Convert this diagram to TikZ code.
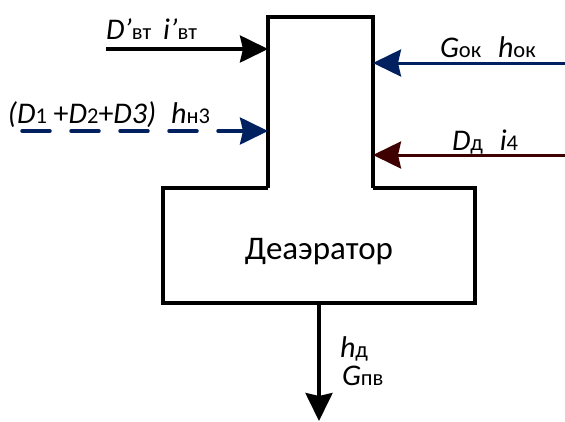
\documentclass[tikz,border=0pt]{standalone}
\usepackage{fontspec}
\setmainfont{Carlito}
\usetikzlibrary{arrows.meta}
\definecolor{navy}{RGB}{0,32,96}
\definecolor{dred}{RGB}{62,0,0}
\newcommand\sbs[1]{{\fontsize{22.5}{22.5}\selectfont #1}}
\begin{document}
\begin{tikzpicture}[x=1pt,y=-1pt,
  lbl/.style={inner sep=0pt,outer sep=0pt,anchor=base west,font=\fontsize{30}{30}\selectfont},
  part/.style={inner sep=0pt,outer sep=0pt},
  flow/.style={line width=3.5pt,-{Stealth[length=28pt,width=27pt,inset=3pt]}},
  wall/.style={line width=3.5pt,line join=miter}]
\useasboundingbox (0,0) rectangle (565,421);
% bodies
\node[part,draw,wall,minimum width=312pt,minimum height=115pt] (box) at (319,245.5) {};
\node[part,minimum width=105pt,minimum height=171pt] (col) at (320.5,102.5) {};
\fill[white] ([yshift=-3pt]col.south west) rectangle (col.north east);
\draw[wall] (col.south west) -- (col.north west) -- (col.north east) -- (col.south east);
\node[inner sep=0pt,anchor=base,font=\fontsize{33}{33}\selectfont] (name) at (319,259) {Деаэратор};
% free ends
\coordinate (a1) at (106,49);
\coordinate (a2) at (22,131);
\coordinate (a3) at (565,63);
\coordinate (a4) at (565,155);
\coordinate (a5) at (319,421);
% connectors
\draw[flow,black] (a1) -- (col.west |- a1);
\draw[flow,navy,line cap=round,dash pattern=on 28pt off 21pt] (a2) -- (col.west |- a2);
\draw[flow,navy,line width=3pt] (a3) -- (col.east |- a3);
\draw[flow,dred,line width=3pt] (a4) -- (col.east |- a4);
\draw[flow,black] (box.south) -- (a5);
% labels
\node[lbl] (l1) at (106,39) {\textit{D}\textit{’}\sbs{вт}\, \textit{i}\textit{’}\sbs{вт}};
\node[lbl] (l2) at (8,123) {\textit{(D}\sbs{1} +\textit{D}\sbs{2}+\textit{D3)}\enspace\textit{h}\sbs{н3}};
\node[lbl] (l3) at (440,57) {\textit{G}\sbs{ок}\,\, \textit{h}\sbs{ок}};
\node[lbl] (l4) at (452,150) {\textit{D}\sbs{д}\,\, \textit{i}\sbs{4}};
\node[lbl] (l5) at (340,357) {\textit{h}\sbs{д}};
\node[lbl] (l6) at (342,385) {\textit{G}\sbs{пв}};
\end{tikzpicture}
\end{document}
